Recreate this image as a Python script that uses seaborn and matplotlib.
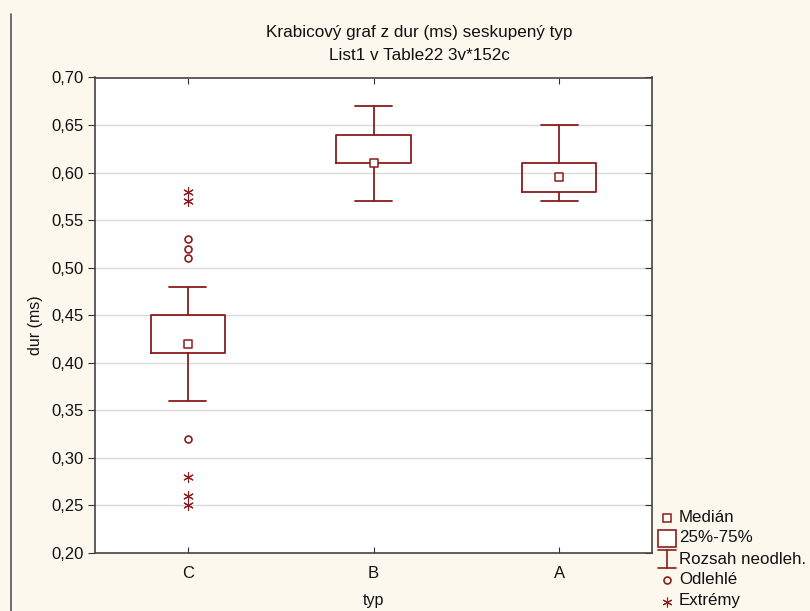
import matplotlib
matplotlib.use("Agg")
import matplotlib.pyplot as plt
from matplotlib.lines import Line2D
from matplotlib.patches import Rectangle
from matplotlib.ticker import FixedLocator, FuncFormatter
import seaborn as sns
import pandas as pd

# Summary statistics of dur (ms) grouped by typ
categories = ["C", "B", "A"]
medians = [0.42, 0.61, 0.595]
q25 = [0.41, 0.61, 0.58]
q75 = [0.45, 0.64, 0.61]
whisker_low = [0.36, 0.57, 0.57]
whisker_high = [0.48, 0.67, 0.65]

# Points outside the non-outlier range (all in group C)
outlier_typ = ["C", "C", "C", "C"]
outlier_dur = [0.51, 0.52, 0.53, 0.32]
extreme_typ = ["C", "C", "C", "C", "C"]
extreme_dur = [0.57, 0.58, 0.28, 0.26, 0.25]

yticks = [0.20, 0.25, 0.30, 0.35, 0.40, 0.45, 0.50, 0.55, 0.60, 0.65, 0.70]

RED = "#8c1c1c"
BG = "#fdf8ed"
TXT = "#111111"
FONT = ["Liberation Sans", "DejaVu Sans"]

sns.set_style("white")
plt.rcParams["font.family"] = FONT

fig = plt.figure(figsize=(8.1, 6.11), dpi=100, facecolor=BG)
ax = fig.add_axes([95 / 810, 1 - 553 / 611, (652 - 95) / 810, (553 - 77.5) / 611])
ax.set_facecolor("white")

# Horizontal grid
for y in yticks[1:-1]:
    ax.axhline(y, color="#d9d9d9", lw=1.0, zorder=0)

# Boxes and whiskers
stats = []
for i, c in enumerate(categories):
    stats.append(dict(label=c, med=medians[i], q1=q25[i], q3=q75[i],
                      whislo=whisker_low[i], whishi=whisker_high[i], fliers=[]))
ax.bxp(stats, positions=[0, 1, 2], widths=0.40, showfliers=False,
       boxprops=dict(color=RED, lw=1.3),
       whiskerprops=dict(color=RED, lw=1.3),
       capprops=dict(color=RED, lw=1.3),
       medianprops=dict(visible=False),
       capwidths=0.2, manage_ticks=False, zorder=3)

# Median markers
med_df = pd.DataFrame({"typ": categories, "dur": medians})
sns.stripplot(data=med_df, x="typ", y="dur", order=categories, jitter=False,
              marker="s", s=5.5, color="white", edgecolor=RED, linewidth=1.1,
              ax=ax, zorder=4)

# Outliers
out_df = pd.DataFrame({"typ": outlier_typ, "dur": outlier_dur})
sns.stripplot(data=out_df, x="typ", y="dur", order=categories, jitter=False,
              marker="o", s=5, color="white", edgecolor=RED, linewidth=1.2,
              ax=ax, zorder=4)

# Extremes
ext_df = pd.DataFrame({"typ": extreme_typ, "dur": extreme_dur})
sns.stripplot(data=ext_df, x="typ", y="dur", order=categories, jitter=False,
              marker=(6, 2, 0), s=7, color=RED, linewidth=0.8,
              ax=ax, zorder=4)

ax.set_xlim(-0.5, 2.5)
ax.set_ylim(0.20, 0.70)
ax.yaxis.set_major_locator(FixedLocator(yticks))
ax.yaxis.set_major_formatter(FuncFormatter(lambda v, p: f"{v:.2f}".replace(".", ",")))
ax.set_xticks([0, 1, 2])
ax.set_xticklabels(categories)

for s in ax.spines.values():
    s.set_color("#444444")
    s.set_linewidth(1.2)

ax.tick_params(axis="y", which="both", left=True, right=True, direction="out",
               length=5, width=0.8, color="#333333", labelsize=12, labelcolor=TXT, pad=3)
ax.tick_params(axis="x", which="both", bottom=True, top=True, direction="in",
               length=4, width=0.8, color="#333333", labelsize=12, labelcolor=TXT, pad=9)
for t in ax.yaxis.get_ticklines()[1::2]:
    # right-side ticks point inward
    t.set_marker(0)
    t.set_markersize(5)

ax.set_xlabel("typ", fontsize=11.5, color=TXT)
ax.set_ylabel("dur (ms)", fontsize=11.5, color=TXT)
ax.xaxis.set_label_coords(0.5, -40 / 475.5)
ax.yaxis.set_label_coords(-52 / 557, 0.48)

# Titles
fig.text(419 / 810, 1 - 33 / 611, "Krabicový graf z dur (ms) seskupený typ",
         ha="center", va="center", fontsize=12.3, color=TXT)
fig.text(419 / 810, 1 - 56 / 611, "List1 v Table22 3v*152c",
         ha="center", va="center", fontsize=12.3, color=TXT)

# Page frame line on the left
fig.add_artist(Line2D([10.5 / 810, 10.5 / 810], [0, 1 - 14 / 611], color="#555555", lw=1.2))

# Legend
def fx(px):
    return px / 810

def fy(py):
    return 1 - py / 611

tx = 679
fs = 12.2
fig.add_artist(Line2D([fx(667)], [fy(518)], marker="s", ms=5.5, mfc="white", mec=RED, mew=1.1, ls="none"))
fig.text(fx(tx), fy(518), "Medián", ha="left", va="center", fontsize=fs, color=TXT)
fig.add_artist(Rectangle((fx(658), fy(547)), (676 - 658) / 810, (547 - 530) / 611,
                         transform=fig.transFigure, fc="white", ec=RED, lw=1.2))
fig.text(fx(tx), fy(538), "25%-75%", ha="left", va="center", fontsize=fs, color=TXT)
fig.add_artist(Line2D([fx(667), fx(667)], [fy(550), fy(568)], color=RED, lw=1.2))
fig.add_artist(Line2D([fx(658), fx(676)], [fy(550), fy(550)], color=RED, lw=1.2))
fig.add_artist(Line2D([fx(658), fx(676)], [fy(568), fy(568)], color=RED, lw=1.2))
fig.text(fx(tx), fy(559), "Rozsah neodleh.", ha="left", va="center", fontsize=fs, color=TXT)
fig.add_artist(Line2D([fx(667)], [fy(580)], marker="o", ms=5, mfc="white", mec=RED, mew=1.2, ls="none"))
fig.text(fx(tx), fy(580), "Odlehlé", ha="left", va="center", fontsize=fs, color=TXT)
fig.add_artist(Line2D([fx(667)], [fy(602)], marker=(6, 2, 0), ms=7, color=RED, mew=0.8, ls="none"))
fig.text(fx(tx), fy(601), "Extrémy", ha="left", va="center", fontsize=fs, color=TXT)

fig.savefig("out.png", dpi=100, facecolor=BG)
